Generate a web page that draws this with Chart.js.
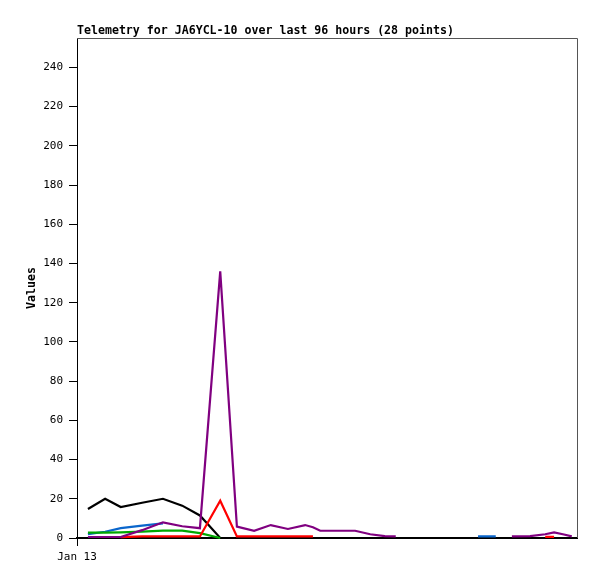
<!DOCTYPE html>
<html>
<head>
<meta charset="utf-8">
<script src="https://cdn.jsdelivr.net/npm/chart.js@4/dist/chart.umd.min.js"></script>
<style>
html,body{margin:0;padding:0;background:#fff;}
canvas{display:block;}
</style>
</head>
<body>
<canvas id="c" width="597" height="579"></canvas>
<script>
// Time of each sample, in hours after Jan 13 00:00
const hours = [2.1, 5.4, 8.4, 12.5, 16.5, 20.2, 23.6, 27.5, 30.7, 34.0, 37.2, 40.5, 43.8, 45.3,
               46.7, 50.1, 53.4, 56.3, 59.1, 61.2, 77.0, 80.4, 83.5, 87.0, 89.9, 91.6, 93.5, 95.0];
const seriesBlack  = [14.8, 20, 15.8, 18, 20, 16.5, 11.5, 0, 0, 0, 0, 0, 0, 0,
                      0, 0, 0, 0, 0, 0, 0, 0, 0, 0, 0, 0, 0, 0];
const seriesBlue   = [2, 3.2, 5, 6.3, 7.5, null, null, null, null, null, null, null, null, null,
                      null, null, null, null, null, null, 0.8, 0.8, null, null, null, null, null, null];
const seriesGreen  = [2.7, 2.7, 2.9, 3.3, 3.8, 3.8, 2.5, 0, null, null, null, null, null, null,
                      null, null, null, null, null, null, null, null, null, null, null, null, null, null];
const seriesRed    = [null, null, 0.4, 0.8, 0.8, 0.8, 0.8, 19, 0.8, 0.8, 0.8, 0.8, 0.8, 0.8,
                      null, null, null, null, null, null, null, null, null, null, 0.6, 0.6, null, null];
const seriesPurple = [0.5, 0.5, 0.5, 4, 8, 6, 5, 136, 5.8, 3.7, 6.6, 4.6, 6.6, 5.5,
                      3.7, 3.7, 3.7, 1.9, 1, 0.8, null, null, 0.8, 1, 1.9, 2.9, 1.8, 0.8];
const yTicks = [0, 20, 40, 60, 80, 100, 120, 140, 160, 180, 200, 220, 240];
const xTicks = [0];
const xTickLabels = ['Jan 13'];
const titleText = 'Telemetry for JA6YCL-10 over last 96 hours (28 points)';
const yTitle = 'Values';

const toPts = arr => hours.map((h, i) => ({x: h, y: arr[i]}));
const mk = (arr, color) => ({
  data: toPts(arr), borderColor: color, backgroundColor: color,
  borderWidth: 2.2, pointRadius: 0, tension: 0, spanGaps: false, fill: false, clip: 4
});

const MONO = "'DejaVu Sans Mono', 'Liberation Mono', monospace";

const frame = {
  id: 'frame',
  beforeDatasetsDraw(chart) {
    const {ctx, chartArea: a} = chart;
    ctx.save();
    ctx.strokeStyle = '#555';
    ctx.lineWidth = 1;
    ctx.beginPath();
    ctx.moveTo(a.left, a.top + 0.5);
    ctx.lineTo(a.right + 0.5, a.top + 0.5);
    ctx.lineTo(a.right + 0.5, a.bottom);
    ctx.stroke();
    ctx.restore();
  }
};

new Chart(document.getElementById('c'), {
  type: 'line',
  data: {
    datasets: [
      mk(seriesPurple, '#800080'),
      mk(seriesRed, '#ff0000'),
      mk(seriesGreen, '#00a800'),
      mk(seriesBlue, '#0a66cc'),
      mk(seriesBlack, '#000000')
    ]
  },
  plugins: [frame],
  options: {
    responsive: false,
    animation: false,
    layout: {padding: {left: 0, right: 20, top: 0, bottom: 0}},
    plugins: {
      legend: {display: false},
      tooltip: {enabled: false},
      title: {
        display: true, text: titleText, align: 'start', fullSize: false,
        color: '#000',
        font: {family: MONO, size: 11.6, weight: 'bold', lineHeight: '12px'},
        padding: {top: 25, bottom: 1}
      }
    },
    scales: {
      x: {
        type: 'linear', min: 0, max: 96,
        afterBuildTicks: s => { s.ticks = xTicks.map(v => ({value: v})); },
        afterFit: s => { s.height = 41; },
        ticks: {
          autoSkip: false, maxRotation: 0, color: '#000', padding: 5,
          font: {family: MONO, size: 11},
          callback: (v) => { const i = xTicks.indexOf(v); return i >= 0 ? xTickLabels[i] : ''; }
        },
        grid: {drawOnChartArea: false, tickLength: 8, tickColor: '#000', tickWidth: 1},
        border: {color: '#000', width: 2}
      },
      y: {
        type: 'linear', min: 0, max: 255,
        afterBuildTicks: s => { s.ticks = yTicks.map(v => ({value: v})); },
        afterFit: s => { s.width = 77; },
        ticks: {
          autoSkip: false, color: '#000', padding: 6,
          font: {family: MONO, size: 11}
        },
        grid: {drawOnChartArea: false, tickLength: 8, tickColor: '#000', tickWidth: 1},
        border: {color: '#000', width: 1},
        title: {
          display: true, text: yTitle, color: '#000',
          font: {family: MONO, size: 11.6, weight: 'bold'},
          padding: {top: 25, bottom: 0}
        }
      }
    }
  }
});
</script>
</body>
</html>
